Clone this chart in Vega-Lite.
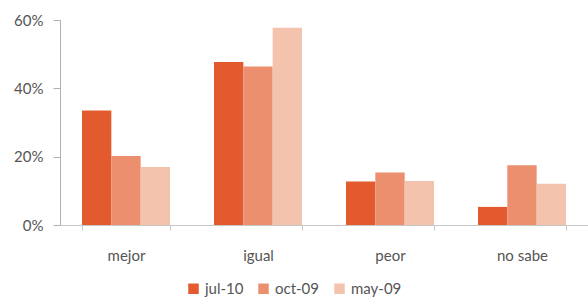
{
  "$schema": "https://vega.github.io/schema/vega-lite/v6.json",
  "width": 528,
  "height": 205,
  "autosize": {"type": "none"},
  "padding": {"left": 60, "top": 20, "right": 0, "bottom": 74},
  "background": "white",
  "config": {
    "view": {"stroke": null},
    "font": "Lato",
    "axis": {"labelFont": "Lato", "labelColor": "#555555", "labelFontSize": 15, "domainColor": "#b0b0b0", "tickColor": "#b0b0b0", "grid": false},
    "legend": {"labelFont": "Lato", "labelColor": "#555555", "labelFontSize": 15}
  },
  "data": {
    "values": [
      {"cat": "mejor", "serie": "jul-10", "v": 0.335},
      {"cat": "mejor", "serie": "oct-09", "v": 0.202},
      {"cat": "mejor", "serie": "may-09", "v": 0.17},
      {"cat": "igual", "serie": "jul-10", "v": 0.477},
      {"cat": "igual", "serie": "oct-09", "v": 0.464},
      {"cat": "igual", "serie": "may-09", "v": 0.577},
      {"cat": "peor", "serie": "jul-10", "v": 0.127},
      {"cat": "peor", "serie": "oct-09", "v": 0.154},
      {"cat": "peor", "serie": "may-09", "v": 0.129},
      {"cat": "no sabe", "serie": "jul-10", "v": 0.053},
      {"cat": "no sabe", "serie": "oct-09", "v": 0.175},
      {"cat": "no sabe", "serie": "may-09", "v": 0.121}
    ]
  },
  "mark": {"type": "bar"},
  "encoding": {
    "x": {
      "field": "cat", "type": "nominal", "sort": ["mejor", "igual", "peor", "no sabe"],
      "scale": {"paddingInner": 0.3333, "paddingOuter": 0.1667},
      "axis": {"title": null, "labelAngle": 0, "tickBand": "extent", "tickSize": 5, "labelPadding": 18, "domainColor": "#c8c8c8", "tickColor": "#c8c8c8"}
    },
    "xOffset": {"field": "serie", "type": "nominal", "sort": ["jul-10", "oct-09", "may-09"], "scale": {"paddingInner": 0, "paddingOuter": 0}},
    "y": {
      "field": "v", "type": "quantitative",
      "scale": {"domain": [0, 0.6], "nice": false},
      "axis": {"title": null, "format": ".0%", "values": [0, 0.2, 0.4, 0.6], "tickSize": 7, "labelPadding": 10}
    },
    "color": {
      "field": "serie", "type": "nominal", "sort": ["jul-10", "oct-09", "may-09"],
      "scale": {"domain": ["jul-10", "oct-09", "may-09"], "range": ["#e25a2d", "#eb8f6f", "#f3c3ad"]},
      "legend": {"title": null, "orient": "none", "direction": "horizontal", "legendX": 126, "legendY": 261, "symbolType": "square", "symbolSize": 110, "symbolStrokeWidth": 0, "columnPadding": 12, "labelOffset": 4}
    }
  }
}
